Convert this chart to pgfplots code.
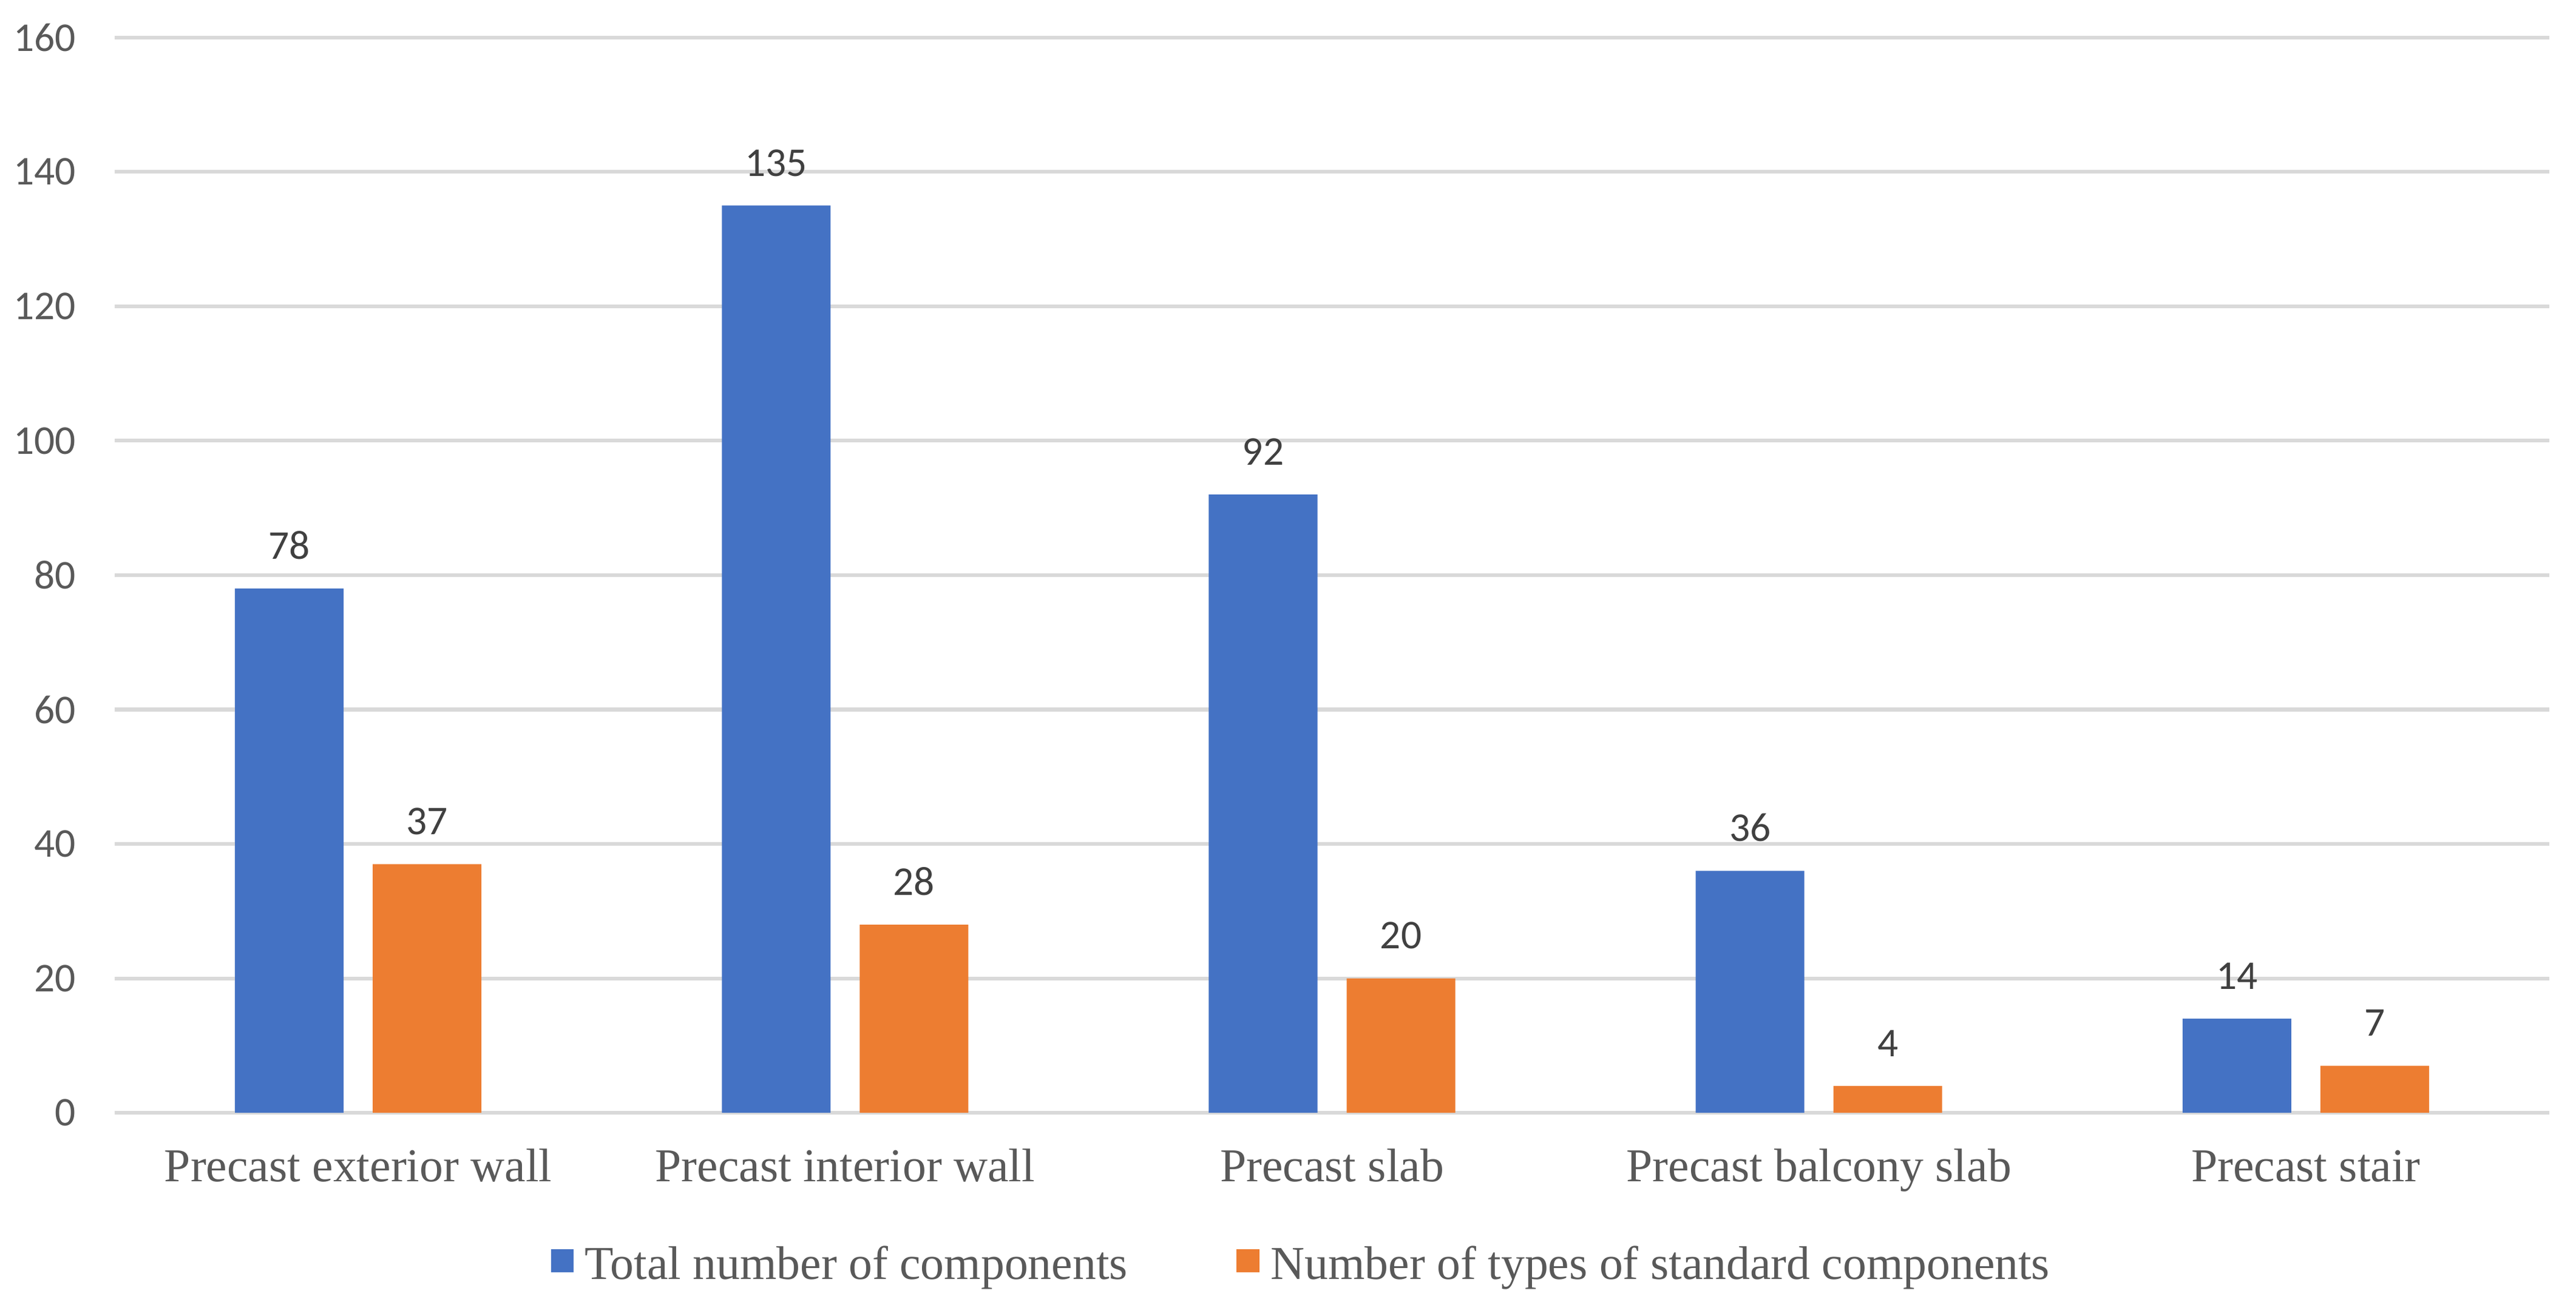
\documentclass[border=0pt]{standalone}
\usepackage{fontspec}
\setmainfont{Liberation Serif}
\newfontfamily\calibri{Carlito}
\usepackage{pgfplots}
\pgfplotsset{compat=1.18}

\definecolor{barblue}{HTML}{4472C4}
\definecolor{barorange}{HTML}{ED7D31}
\definecolor{gridgray}{HTML}{D9D9D9}
\definecolor{ticktext}{HTML}{595959}
\definecolor{labeltext}{HTML}{404040}

\begin{document}
\begin{tikzpicture}
  % page size (4244 x 2146 px)
  \path[use as bounding box] (-20.2pt,-33.3pt) rectangle (433.3pt,196.0pt);
  \begin{axis}[
      at={(0pt,0pt)}, anchor=south west,
      scale only axis,
      width=428.6pt, height=189.4pt,
      xmin=-0.5, xmax=4.5,
      ymin=0, ymax=160,
      ytick={0,20,...,160},
      xtick={0,1,2,3,4},
      xticklabels={Precast exterior wall, Precast interior wall, Precast slab,
        Precast balcony slab, Precast stair},
      axis line style={draw=none},
      tick style={draw=none},
      major tick length=0pt,
      ymajorgrids,
      major grid style={draw=gridgray, line width=0.65pt},
      /pgf/number format/assume math mode=true,
      yticklabel style={font=\calibri\fontsize{7.2}{8}\selectfont, color=ticktext,
        anchor=east, inner sep=0pt, xshift=-6.7pt},
      xticklabel style={font=\fontsize{8.3}{9}\selectfont, color=ticktext,
        anchor=base, inner sep=0pt, yshift=-12.1pt},
      nodes near coords,
      nodes near coords style={font=\calibri\fontsize{7.2}{8}\selectfont,
        color=labeltext, anchor=base, inner sep=0pt, yshift=5.2pt},
      legend columns=2,
      legend style={draw=none, fill=none, at={(0.487,0)}, anchor=north,
        yshift=-23.5pt, inner sep=0pt, outer sep=0pt,
        font=\fontsize{8.3}{9}\selectfont, text=ticktext,
        nodes={inner sep=0pt},
        /tikz/every odd column/.append style={column sep=2pt},
        /tikz/every even column/.append style={column sep=19.2pt}},
    ]
    \addplot[ybar, bar width=19.13pt, bar shift=-12.13pt,
      fill=barblue, draw=none,
      every node near coord/.append style={xshift=-12.13pt},
      legend image code/.code={\fill[barblue] (0pt,-0.9pt) rectangle (4pt,3.1pt);}]
      coordinates {(0,78) (1,135) (2,92) (3,36) (4,14)};
    \addlegendentry{Total number of components}
    \addplot[ybar, bar width=19.13pt, bar shift=12.13pt,
      fill=barorange, draw=none,
      every node near coord/.append style={xshift=12.13pt},
      legend image code/.code={\fill[barorange] (0pt,-0.9pt) rectangle (4pt,3.1pt);}]
      coordinates {(0,37) (1,28) (2,20) (3,4) (4,7)};
    \addlegendentry{Number of types of standard components}
  \end{axis}
\end{tikzpicture}
\end{document}
